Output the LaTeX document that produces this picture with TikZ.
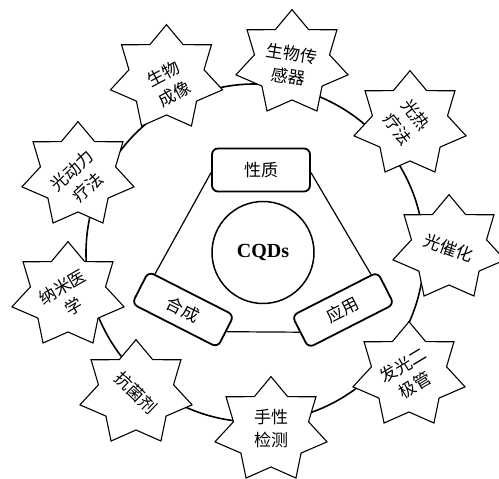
\documentclass[tikz,border=0pt]{standalone}
\usepackage{fontspec}
\setmainfont{Liberation Serif}
\newfontfamily\cjk{Noto Sans CJK SC}
\usetikzlibrary{calc}
\tikzset{
  ringline/.style={line width=1.6pt},
  starline/.style={line width=1.1pt, fill=white, line join=miter},
  startext/.style={font=\cjk\fontsize{17}{23}\selectfont, align=center, inner sep=0pt},
  propbox/.style={draw, line width=1.8pt, rounded corners=6pt, fill=white, inner sep=0pt,
    minimum width=98pt, minimum height=43pt, font=\cjk\fontsize{17}{20}\selectfont},
  slimbox/.style={propbox, minimum width=96pt, minimum height=36pt},
  triline/.style={line width=1.2pt},
  corecircle/.style={draw, circle, line width=1.5pt, minimum size=102pt, inner sep=0pt,
    font=\fontsize{20}{24}\selectfont\bfseries},
}
\newcommand\mystar[5]{%
  \coordinate (#1) at #2;
  \draw[starline, shift={#2}] (90:57.5 and 53.3)
    \foreach \k in {1,...,7}{ -- ({90-(\k-0.5)*360/7}:38.5 and 37) -- ({90-\k*360/7}:57.5 and 53.3)} -- cycle;
  \node[startext, rotate=#3] (#1t) at ($(#1)+#4$) {#5};
}
\begin{document}
\begin{tikzpicture}[x=1pt, y=1pt]
\useasboundingbox (0,0) rectangle (499,479);
\draw[ringline] (255,226) circle[radius=169];
\mystar{s1}{(166.5,401)}{28}{(2.5,-6)}{生物\\成像}
\mystar{s2}{(292,416)}{-9}{(-2,-2)}{生物传\\感器}
\mystar{s3}{(410,355)}{-52}{(-3,2)}{光热\\疗法}
\mystar{s4}{(449,231)}{-20}{(0,0)}{光催化}
\mystar{s5}{(409,104)}{31}{(0,0)}{发光二\\极管}
\mystar{s6}{(271,49)}{0}{(0,1)}{手性\\检测}
\mystar{s7}{(136,86)}{-44}{(0,0)}{抗菌剂}
\mystar{s8}{(68,184)}{30}{(0,-2)}{纳米医\\学}
\mystar{s9}{(78,304)}{43}{(2,-4)}{光动力\\疗法}

\node[corecircle] (cqd) at (263,226.5) {CQDs};

\node[propbox] (xz) at (261,309) {性质};
\node[slimbox, rotate=-27] (hc) at (183,169.5) {合成};
\node[slimbox, rotate=27] (yy) at (343,169) {应用};

\draw[triline] ([yshift=-2.5pt]xz.west) -- ($(hc.north west)!0.08!(hc.north east)$);
\draw[triline] ([yshift=-2.5pt]xz.east) -- ($(yy.north east)!0.08!(yy.north west)$);
\draw[triline] (hc.east) -- (yy.west);
\end{tikzpicture}
\end{document}
